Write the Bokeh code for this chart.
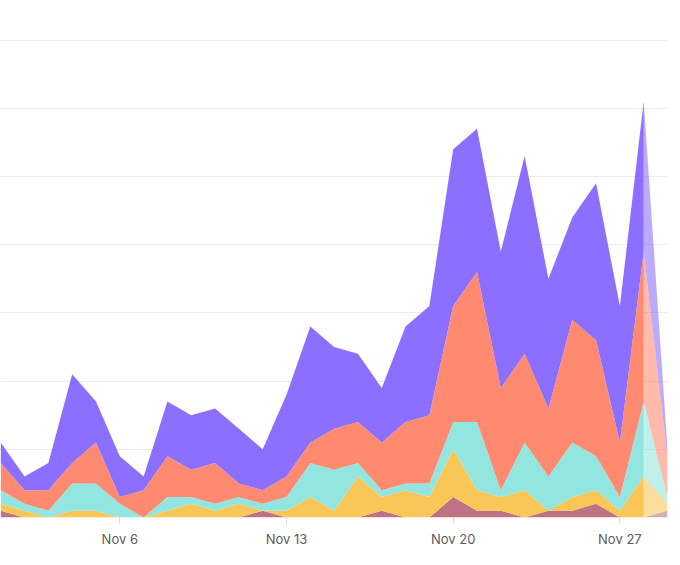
from bokeh.plotting import figure
from bokeh.models import ColumnDataSource, FixedTicker, Grid
from bokeh.embed import file_html
from bokeh.resources import INLINE

# ---- data (day of November, stacked counts per series) ----
days = list(range(1, 30))
maroon = [1, 0, 0, 0, 0, 0, 0, 0, 0, 0, 0, 1, 0, 0, 0, 0, 1, 0, 0, 3, 1, 1, 0, 1, 1, 2, 0, 0, 1]
yellow = [1, 1, 0, 1, 1, 0, 0, 1, 2, 1, 2, 0, 1, 3, 1, 6, 2, 4, 3, 7, 3, 2, 4, 0, 2, 2, 1, 6, 1]
teal   = [2, 1, 1, 4, 4, 2, 0, 2, 1, 1, 1, 1, 2, 5, 6, 2, 1, 1, 2, 4, 10, 1, 7, 5, 8, 5, 2, 11, 1]
salmon = [4, 2, 3, 3, 6, 1, 4, 6, 4, 6, 2, 2, 3, 3, 6, 6, 7, 9, 10, 17, 22, 15, 13, 10, 18, 17, 8, 22, 6]
purple = [3, 2, 4, 13, 6, 6, 2, 8, 8, 8, 8, 6, 12, 17, 12, 10, 8, 14, 16, 23, 21, 20, 29, 19, 15, 23, 20, 22, 1]

tick_days = [6, 13, 20, 27]
tick_labels = ["Nov 6", "Nov 13", "Nov 20", "Nov 27"]
grid_values = [10, 20, 30, 40, 50, 60, 70]

series = ["maroon", "yellow", "teal", "salmon", "purple"]
solid_colors = ["#BE7284", "#F9C658", "#93E6DF", "#FF8A70", "#8C6FFF"]
base_colors = ["#B2596E", "#F8BC3B", "#80E1D9", "#FF7557", "#7856FF"]

full = dict(x=days, maroon=maroon, yellow=yellow, teal=teal, salmon=salmon, purple=purple)
n = len(days)
main = ColumnDataSource({k: v[: n - 1] for k, v in full.items()})   # complete days
tail = ColumnDataSource({k: v[n - 2:] for k, v in full.items()})    # in-progress period

p = figure(width=672, height=557, output_backend="svg", toolbar_location=None,
           x_range=(0.99, 29), y_range=(0, 72), y_axis_location=None,
           min_border_left=0, min_border_right=5, min_border_top=26, min_border_bottom=40)
p.outline_line_color = None
p.background_fill_color = "white"
p.border_fill_color = "white"
p.xgrid.visible = False

p.add_layout(Grid(dimension=1, ticker=FixedTicker(ticks=grid_values),
                  grid_line_color="#ebebeb", grid_line_width=1))

p.varea_stack(stackers=series, x="x", color=solid_colors, source=main)
p.varea_stack(stackers=series, x="x", color=base_colors, fill_alpha=0.5, source=tail)

ax = p.xaxis[0]
ax.ticker = FixedTicker(ticks=tick_days)
ax.major_label_overrides = {d: lab for d, lab in zip(tick_days, tick_labels)}
ax.axis_line_color = None
ax.major_tick_line_color = "#dcdcdc"
ax.major_tick_out = 6
ax.major_tick_in = 0
ax.minor_tick_line_color = None
ax.major_label_text_font = "Inter"
ax.major_label_text_font_size = "13px"
ax.major_label_text_color = "#5c5c5c"
ax.major_label_standoff = 7

open("out.html", "w").write(file_html(p, INLINE))
